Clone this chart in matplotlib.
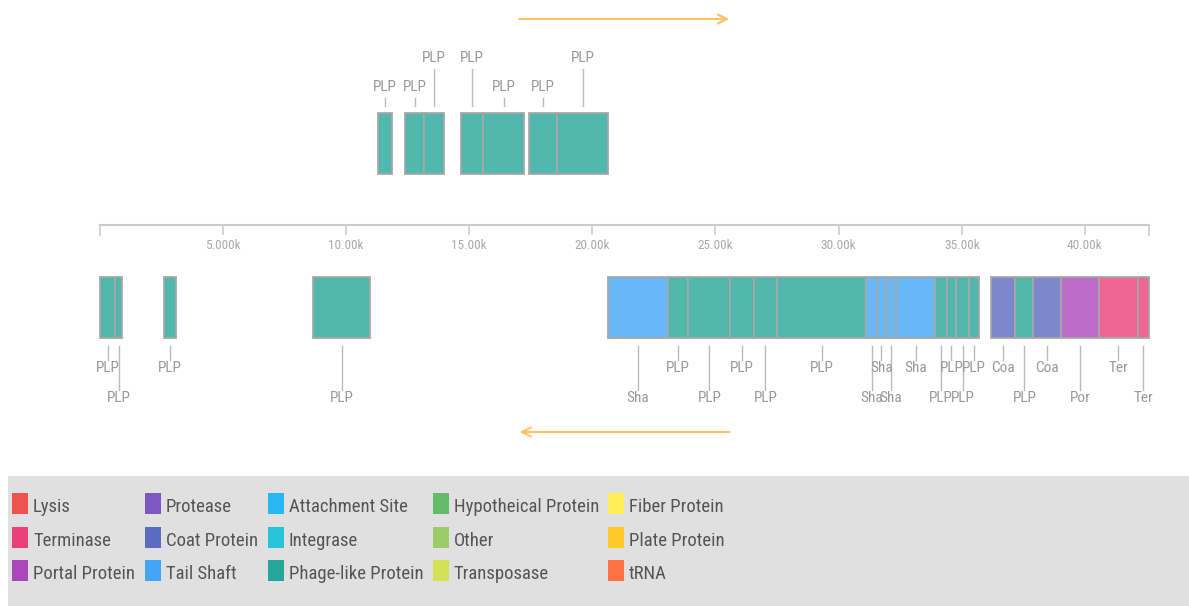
import matplotlib
matplotlib.use("Agg")
import matplotlib.pyplot as plt
from matplotlib import font_manager
from matplotlib.patches import Rectangle

# pick a narrow sans face if one is around
installed = {f.name for f in font_manager.fontManager.ttflist}
narrow = [f for f in ["Liberation Sans Narrow", "Roboto Condensed", "Open Sans Condensed",
                      "DejaVu Sans Condensed", "Liberation Sans"] if f in installed]
plt.rcParams['font.family'] = narrow[:1] + ['DejaVu Sans']

genome_len = 42600

# forward strand genes
top_start = [11280, 12400, 13170, 14650, 15560, 17410, 18560]
top_end = [11860, 13170, 13960, 15560, 17220, 18560, 20650]
top_name = ["PLP"] * 7

# reverse strand genes
bot_start = [0, 620, 2590, 8640, 20620, 23060, 23900, 25600, 26550, 27500,
             31130, 31560, 31910, 32340, 33930, 34390, 34780, 35300,
             36180, 37180, 37910, 39050, 40560, 42150]
bot_end = [620, 890, 3090, 10980, 23060, 23900, 25600, 26550, 27500, 31130,
           31560, 31910, 32340, 33930, 34390, 34780, 35300, 35690,
           37180, 37910, 39050, 40560, 42150, 42600]
bot_name = ["PLP", "PLP", "PLP", "PLP", "Sha", "PLP", "PLP", "PLP", "PLP", "PLP",
            "Sha", "Sha", "Sha", "Sha", "PLP", "PLP", "PLP", "PLP",
            "Coa", "PLP", "Coa", "Por", "Ter", "Ter"]

legend_cols = [
    ["Lysis", "Terminase", "Portal Protein"],
    ["Protease", "Coat Protein", "Tail Shaft"],
    ["Attachment Site", "Integrase", "Phage-like Protein"],
    ["Hypotheical Protein", "Other", "Transposase"],
    ["Fiber Protein", "Plate Protein", "tRNA"],
]
colors = {
    "Lysis": "#ef5350", "Terminase": "#ec407a", "Portal Protein": "#ab47bc",
    "Protease": "#7e57c2", "Coat Protein": "#5c6bc0", "Tail Shaft": "#42a5f5",
    "Attachment Site": "#29b6f6", "Integrase": "#26c6da", "Phage-like Protein": "#26a69a",
    "Hypotheical Protein": "#66bb6a", "Other": "#9ccc65", "Transposase": "#d4e157",
    "Fiber Protein": "#ffee58", "Plate Protein": "#ffca28", "tRNA": "#ff7043",
}
abbrev = {"PLP": "Phage-like Protein", "Sha": "Tail Shaft", "Coa": "Coat Protein",
          "Por": "Portal Protein", "Ter": "Terminase"}

# label rows (0 = near, 1 = far)
top_tier = [0, 0, 1, 1, 0, 0, 1]
bot_tier = [0, 1, 0, 1, 1, 0, 1, 0, 1, 0, 1, 0, 1, 0, 1, 0, 1, 0, 0, 1, 0, 1, 0, 1]

W, H = 1189, 606
px_per_bp = 24.62 / 1000
x0_px = 100

fig = plt.figure(figsize=(W / 100, H / 100), dpi=100)
lax = fig.add_axes([0, 0, 1, 1])
lax.set_xlim(0, W)
lax.set_ylim(H, 0)
lax.axis("off")
ax = fig.add_axes([0, 0, 1, 1])
ax.set_xlim(-x0_px / px_per_bp, (W - x0_px) / px_per_bp)
ax.set_ylim(H, 0)
ax.axis("off")
ax.patch.set_alpha(0)

label_col = "#999999"
edge_col = "#a8a8a8"

def draw_genes(starts, ends, names, tiers, y0, y1, top):
    for s, e, n, t in zip(starts, ends, names, tiers):
        ax.add_patch(Rectangle((s, y0), e - s, y1 - y0, facecolor=colors[abbrev[n]],
                               alpha=0.8, edgecolor="none"))
        ax.add_patch(Rectangle((s, y0), e - s, y1 - y0, facecolor="none",
                               edgecolor=edge_col, lw=1.3))
        c = (s + e) / 2
        if top:
            ty = 98 if t == 0 else 69
            ax.plot([c, c], [ty, 106], color="#bbbbbb", lw=1)
            ax.text(c, ty - 4, n, ha="center", va="bottom", color=label_col, fontsize=11)
        else:
            by = 360 if t == 0 else 390
            ax.plot([c, c], [346, by], color="#bbbbbb", lw=1)
            ax.text(c, by + 1, n, ha="center", va="top", color=label_col, fontsize=11)

draw_genes(top_start, top_end, top_name, top_tier, 113, 174, True)
draw_genes(bot_start, bot_end, bot_name, bot_tier, 277, 338, False)

# axis
axis_y = 225
ax.plot([0, genome_len], [axis_y, axis_y], color="#cccccc", lw=1.5)
ax.plot([0, 0], [axis_y, 235], color="#cccccc", lw=1.2)
ax.plot([genome_len, genome_len], [axis_y, 235], color="#cccccc", lw=1.2)
for v in range(5000, genome_len, 5000):
    ax.plot([v, v], [axis_y, 234], color="#cccccc", lw=1.2)
    k = v / 1000
    digits = len(str(int(k)))
    ax.text(v, 239, f"{k:.{4 - digits}f}k", ha="center", va="top", color="#aaaaaa", fontsize=9.5)

# strand arrows
arrow_col = "#ffc266"
arrow_kw = dict(arrowstyle="->", color=arrow_col, lw=1.6, mutation_scale=16, shrinkA=0, shrinkB=0)
ax.annotate("", xy=(0.6 * genome_len, 19), xytext=(0.4 * genome_len, 19), arrowprops=arrow_kw)
ax.annotate("", xy=(0.4 * genome_len, 432), xytext=(0.6 * genome_len, 432), arrowprops=arrow_kw)

# legend
lax.add_patch(Rectangle((8, 476), W - 8, H - 476, facecolor="#e0e0e0", edgecolor="none"))
col_x = [12, 145, 268, 433, 608]
row_y = [493, 527, 560]
for cx, names in zip(col_x, legend_cols):
    for ry, name in zip(row_y, names):
        lax.add_patch(Rectangle((cx, ry), 16, 21, facecolor=colors[name], edgecolor="none"))
        lax.text(cx + 21, ry + 14, name, ha="left", va="center", color="#555555", fontsize=13.5)

fig.savefig("out.png", dpi=100)
